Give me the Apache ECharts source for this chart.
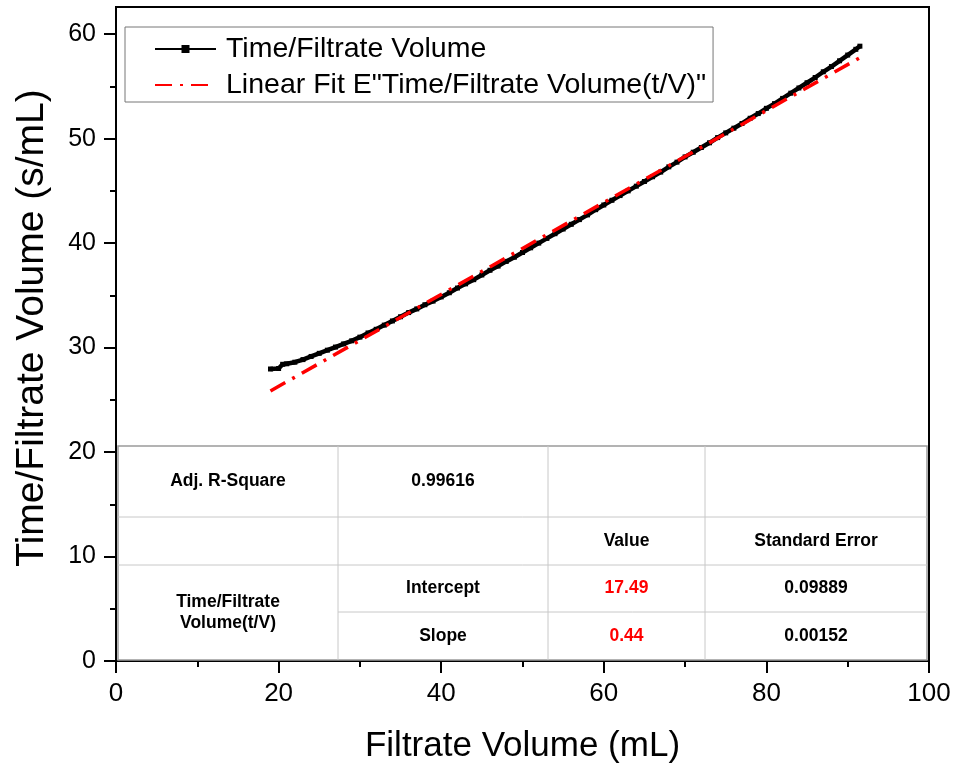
<!DOCTYPE html>
<html>
<head>
<meta charset="utf-8">
<script src="https://cdn.jsdelivr.net/npm/echarts@6/dist/echarts.min.js"></script>
<style>
html,body{margin:0;padding:0;background:#fff;}
#c{width:955px;height:769px;}
</style>
</head>
<body>
<div id="c"></div>
<script>
// Measured data: filtrate volume (mL) and t/V (s/mL)
const volume = [19,20,20.5,21,22,23,24,25,26,27,28,29,30,31,32,33,34,35,36,37,38,39,40,41,42,43,44,45,46,47,48,49,50,51,52,53,54,55,56,57,58,59,60,61,62,63,64,65,66,67,68,69,70,71,72,73,74,75,76,77,78,79,80,81,82,83,84,85,86,87,88,89,90,91,91.5];
const timePerVolume = [27.95,28.0,28.4,28.45,28.6,28.85,29.15,29.45,29.75,30.05,30.35,30.65,31.0,31.4,31.75,32.15,32.55,32.95,33.35,33.7,34.1,34.45,34.85,35.25,35.7,36.1,36.5,36.95,37.4,37.8,38.25,38.65,39.1,39.55,40.0,40.45,40.9,41.35,41.8,42.25,42.7,43.2,43.65,44.1,44.55,45.0,45.45,45.9,46.35,46.8,47.3,47.75,48.25,48.7,49.15,49.6,50.1,50.55,51.0,51.45,51.95,52.4,52.9,53.35,53.85,54.35,54.85,55.35,55.85,56.4,56.9,57.45,58.0,58.55,58.85];
// Linear fit line endpoints
const fitX = [19, 91.5];
const fitY = [25.85, 57.75];

const seriesNames = ['Time/Filtrate Volume', 'Linear Fit E"Time/Filtrate Volume(t/V)"'];
const xTicks = [0,20,40,60,80,100];
const yTicks = [0,10,20,30,40,50,60];
const yMinorTicks = [5,15,25,35,45,55];

// Fit statistics table
const tableRow1 = ['Adj. R-Square', '0.99616', '', ''];
const tableRow2 = ['', '', 'Value', 'Standard Error'];
const tableGroup = 'Time/Filtrate\nVolume(t/V)';
const tableRow3 = ['Intercept', '17.49', '0.09889'];
const tableRow4 = ['Slope', '0.44', '0.00152'];

const mainData = volume.map((v,i)=>[v, timePerVolume[i]]);
const fitData = fitX.map((v,i)=>[v, fitY[i]]);

const FONT = "'Liberation Sans', Arial, sans-serif";
const NARROW = "'Liberation Sans Narrow', 'Liberation Sans', Arial, sans-serif";

// table geometry (layout only)
const cx = [118, 338, 548, 705, 927];
const ry = [446, 517, 565, 612, 660];
const lineCol = '#c8c8c8';
const g = [];
g.push({type:'rect', shape:{x:cx[0], y:ry[0], width:cx[4]-cx[0], height:ry[4]-ry[0]}, style:{fill:'#fff', stroke:'#9a9a9a', lineWidth:1.5}, z:10});
for (let i=1;i<4;i++) g.push({type:'line', shape:{x1:cx[i], y1:ry[0], x2:cx[i], y2:ry[4]}, style:{stroke:lineCol, lineWidth:1}, z:11});
g.push({type:'line', shape:{x1:cx[0], y1:ry[1], x2:cx[4], y2:ry[1]}, style:{stroke:lineCol, lineWidth:1}, z:11});
g.push({type:'line', shape:{x1:cx[0], y1:ry[2], x2:cx[4], y2:ry[2]}, style:{stroke:lineCol, lineWidth:1}, z:11});
g.push({type:'line', shape:{x1:cx[1], y1:ry[3], x2:cx[4], y2:ry[3]}, style:{stroke:lineCol, lineWidth:1}, z:11});
function cellText(txt, col, yc, color){
  if (!txt) return;
  g.push({type:'text', x:(cx[col]+cx[col+1])/2, y:yc, style:{text:txt, font:'bold 17.5px '+NARROW, fill:color||'#000', align:'center', verticalAlign:'middle', lineHeight:21}, z:12});
}
const mid = r => (ry[r]+ry[r+1])/2;
tableRow1.forEach((t,i)=>cellText(t,i,mid(0)));
tableRow2.forEach((t,i)=>cellText(t,i,mid(1)));
cellText(tableGroup, 0, (ry[2]+ry[4])/2);
tableRow3.forEach((t,i)=>cellText(t,i+1,mid(2), i===1?'#ff0000':'#000'));
tableRow4.forEach((t,i)=>cellText(t,i+1,mid(3), i===1?'#ff0000':'#000'));

const chart = echarts.init(document.getElementById('c'), null, {renderer:'canvas'});
chart.setOption({
  animation:false,
  backgroundColor:'#fff',
  grid:{left:116, right:26, top:7, bottom:108, show:true, borderColor:'#000', borderWidth:2, containLabel:false},
  legend:{
    orient:'vertical', left:125, top:27,
    data:[{name:seriesNames[0]},{name:seriesNames[1], itemStyle:{opacity:0}}],
    itemWidth:61, itemHeight:10, itemGap:6,
    padding:[7,7,2,29],
    borderColor:'#777', borderWidth:1, backgroundColor:'#fff',
    textStyle:{fontFamily:FONT, fontSize:28.5, color:'#000', lineHeight:30, padding:[0,0,0,5]}
  },
  xAxis:{
    type:'value', min:0, max:100, interval:20,
    name:'Filtrate Volume (mL)', nameLocation:'middle', nameGap:68,
    nameTextStyle:{fontFamily:FONT, fontSize:35, color:'#000'},
    axisLine:{show:true, onZero:false, lineStyle:{color:'#000', width:2}},
    axisTick:{show:true, inside:false, length:12, lineStyle:{color:'#000', width:2}},
    minorTick:{show:true, splitNumber:2, length:6, lineStyle:{color:'#000', width:2}},
    axisLabel:{fontFamily:FONT, fontSize:26, color:'#000', margin:20, customValues:xTicks},
    splitLine:{show:false}
  },
  yAxis:[{
    type:'value', min:0, max:62.6,
    name:'Time/Filtrate Volume (s/mL)', nameLocation:'middle', nameGap:64,
    nameTextStyle:{fontFamily:FONT, fontSize:39, color:'#000', padding:[0,0,0,12]},
    axisLine:{show:true, onZero:false, lineStyle:{color:'#000', width:2}},
    axisTick:{show:true, inside:false, length:12, lineStyle:{color:'#000', width:2}, customValues:yTicks},
    axisLabel:{fontFamily:FONT, fontSize:25, color:'#000', margin:20, customValues:yTicks},
    splitLine:{show:false}
  },{
    type:'value', min:0, max:62.6, position:'left',
    axisLine:{show:false},
    axisTick:{show:true, inside:false, length:6, lineStyle:{color:'#000', width:2}, customValues:yMinorTicks},
    axisLabel:{show:false},
    splitLine:{show:false}
  }],
  graphic:g,
  series:[{
    name:seriesNames[0], type:'line', data:mainData,
    symbol:'rect', symbolSize:5, showSymbol:true,
    itemStyle:{color:'#000'},
    lineStyle:{color:'#000', width:4.5},
    z:3
  },{
    name:seriesNames[1], type:'line', data:fitData,
    symbol:'none',
    itemStyle:{color:'#ff0000'},
    lineStyle:{color:'#ff0000', width:3.5, type:[17,8,3,8]},
    z:4
  }]
});
</script>
</body>
</html>
